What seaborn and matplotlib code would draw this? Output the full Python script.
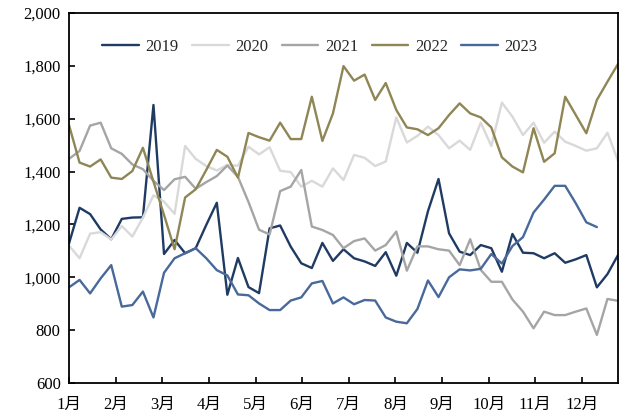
import matplotlib
matplotlib.use("Agg")
import matplotlib.pyplot as plt
import matplotlib.ticker as mticker
import numpy as np
import pandas as pd
import seaborn as sns

# Weekly prices, one list per year (week 0 = first week of January)
years = ["2019", "2020", "2021", "2022", "2023"]

v2019 = [1128, 1263, 1239, 1181, 1144, 1221, 1226, 1227, 1652, 1088,
         1141, 1091, 1110, 1198, 1282, 934, 1073, 963, 940, 1185,
         1196, 1116, 1053, 1035, 1130, 1062, 1106, 1072, 1060, 1043,
         1095, 1006, 1130, 1093, 1250, 1372, 1166, 1097, 1084, 1122,
         1110, 1021, 1164, 1093, 1091, 1072, 1091, 1055, 1068, 1084,
         962, 1012, 1084]
v2020 = [1120, 1072, 1165, 1171, 1143, 1194, 1154, 1226, 1310, 1286,
         1240, 1497, 1448, 1421, 1404, 1425, 1422, 1494, 1465, 1492,
         1403, 1398, 1343, 1365, 1343, 1412, 1368, 1463, 1452, 1421,
         1438, 1605, 1510, 1535, 1570, 1538, 1488, 1517, 1482, 1585,
         1497, 1661, 1608, 1538, 1585, 1509, 1551, 1513, 1497, 1479,
         1488, 1547, 1441]
v2021 = [1448, 1478, 1574, 1585, 1488, 1467, 1427, 1409, 1365, 1330,
         1371, 1380, 1335, 1360, 1383, 1423, 1380, 1285, 1180, 1162,
         1326, 1343, 1406, 1192, 1179, 1160, 1110, 1137, 1147, 1101,
         1122, 1173, 1025, 1117, 1117, 1106, 1101, 1046, 1144, 1028,
         983, 983, 916, 870, 807, 870, 857, 857, 870, 882,
         782, 918, 911]
v2022 = [1576, 1434, 1419, 1446, 1377, 1372, 1402, 1490, 1362, 1236,
         1106, 1302, 1333, 1406, 1482, 1456, 1377, 1546, 1530, 1517,
         1585, 1523, 1523, 1683, 1516, 1620, 1799, 1744, 1767, 1671,
         1735, 1633, 1567, 1560, 1538, 1564, 1614, 1658, 1620, 1605,
         1567, 1454, 1419, 1397, 1564, 1437, 1469, 1683, 1614, 1545,
         1671, 1740, 1807]
v2023 = [962, 990, 939, 996, 1046, 889, 895, 946, 848, 1017,
         1072, 1091, 1110, 1072, 1027, 1007, 935, 932, 901, 876,
         876, 912, 924, 977, 986, 901, 924, 898, 914, 912,
         848, 832, 826, 880, 988, 925, 1000, 1030, 1026, 1032,
         1088, 1052, 1118, 1152, 1245, 1294, 1346, 1346, 1280, 1208,
         1190]

month_labels = ["1月", "2月", "3月", "4月", "5月", "6月",
                "7月", "8月", "9月", "10月", "11月", "12月"]
y_ticks = [600, 800, 1000, 1200, 1400, 1600, 1800, 2000]

series = dict(zip(years, [v2019, v2020, v2021, v2022, v2023]))
frames = []
for yr, vals in series.items():
    frames.append(pd.DataFrame({"week": np.arange(len(vals)),
                                "price": vals, "year": yr}))
df = pd.concat(frames, ignore_index=True)

palette = {"2019": "#1f3b63", "2020": "#d9d9d9", "2021": "#a5a5a5",
           "2022": "#8f8656", "2023": "#48699a"}

sns.set_style("ticks")
plt.rcParams["font.family"] = ["Liberation Serif", "Noto Sans CJK SC"]
plt.rcParams["font.size"] = 12

fig = plt.figure(figsize=(6.25, 4.19), dpi=100)
ax = fig.add_axes([0.1104, 0.0859, 0.8784, 0.8831])

sns.lineplot(data=df, x="week", y="price", hue="year", hue_order=years,
             palette=palette, estimator=None, linewidth=1.7,
             legend=False, ax=ax)

n_weeks = len(v2019)
ax.set_xlim(0, n_weeks - 1)
ax.set_ylim(600, 2000)
ax.set_xticks(np.arange(12) * n_weeks / 12)
ax.set_xticklabels(month_labels)
ax.set_yticks(y_ticks)
ax.yaxis.set_major_formatter(mticker.StrMethodFormatter("{x:,.0f}"))
ax.set_xlabel("")
ax.set_ylabel("")
ax.tick_params(direction="in", length=4, width=1.2, colors="black",
               labelsize=12, pad=6)
ax.tick_params(axis="x", pad=10)
for sp in ax.spines.values():
    sp.set_visible(True)
    sp.set_color("black")
    sp.set_linewidth(1.3)

handles = ax.get_lines()[:len(years)]
ax.legend(handles, years, loc="center", bbox_to_anchor=(0.457, 0.908),
          ncol=5, frameon=False, handlelength=2.2, handletextpad=0.4,
          columnspacing=0.8, fontsize=12)

fig.savefig("out.png", dpi=100)
